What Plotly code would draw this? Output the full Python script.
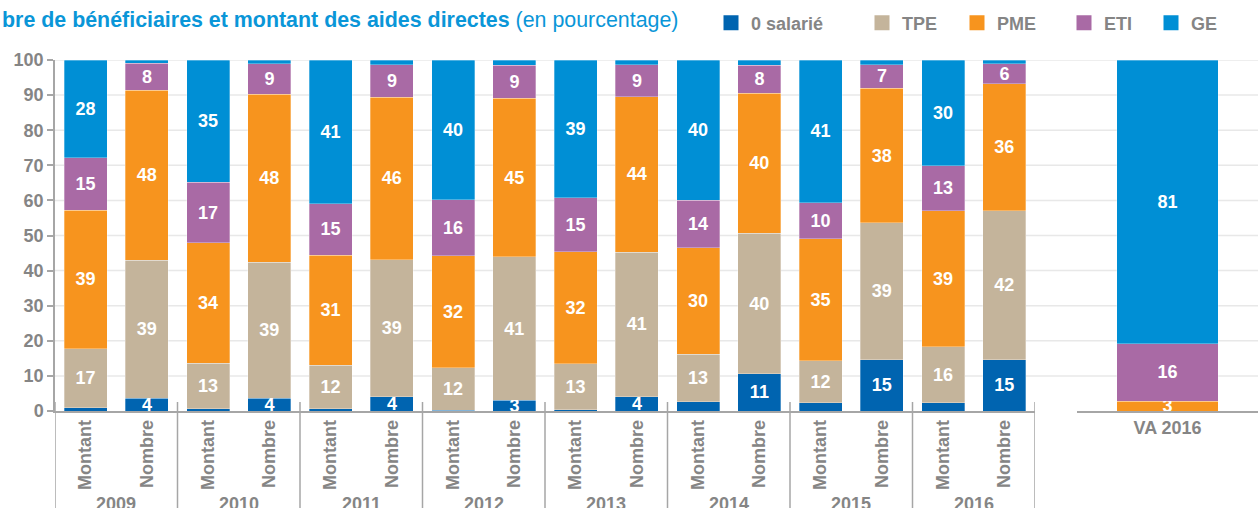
import plotly.graph_objects as go

# ---------------- data ----------------
years = ["2009", "2010", "2011", "2012", "2013", "2014", "2015", "2016"]
kinds = ["Montant", "Nombre"]
series_names = ["0 salarié", "TPE", "PME", "ETI", "GE"]

# order: 2009 Montant, 2009 Nombre, 2010 Montant, 2010 Nombre, ...
zero_salarie = [0.9, 3.6, 0.7, 3.6, 0.7, 4.1, 0.2, 3.0, 0.4, 4.1, 2.7, 10.6, 2.3, 14.6, 2.4, 14.6]
tpe = [16.9, 39.4, 12.9, 38.8, 12.3, 39.0, 12.1, 40.9, 13.0, 41.2, 13.4, 40.0, 12.0, 39.0, 15.9, 42.4]
pme = [39.4, 48.4, 34.3, 47.8, 31.4, 46.3, 32.0, 45.2, 32.0, 44.2, 30.4, 39.9, 34.8, 38.3, 38.8, 36.2]
eti = [15.0, 7.7, 17.3, 8.8, 14.7, 9.3, 15.9, 9.4, 15.4, 9.1, 13.6, 8.0, 10.2, 6.8, 12.8, 5.7]
ge = [27.8, 0.9, 34.8, 1.0, 40.9, 1.3, 39.8, 1.5, 39.2, 1.4, 39.9, 1.5, 40.7, 1.3, 30.1, 1.1]

va_category = ["VA 2016"]
va_pme = [2.8]
va_eti = [16.4]
va_ge = [80.8]

y_ticks = [0, 10, 20, 30, 40, 50, 60, 70, 80, 90, 100]

title_bold = "bre de bénéficiaires et montant des aides directes"
title_light = "(en pourcentage)"

# ---------------- style ----------------
colors = ["#0064B0", "#C4B49B", "#F7941E", "#A96AA5", "#008FD5"]
title_blue = "#0A96D8"
gray_text = "#858585"
axis_gray = "#A6A6A6"
grid_gray = "#E8E8E8"
FONT = "Liberation Sans, Arial, sans-serif"

W, H = 1258, 508
ML, MR, MT, MB = 55, 0, 60, 97
plot_w = W - ML - MR
plot_h = H - MT - MB


def px_x(p):
    return (p - ML) / plot_w


def px_y(p):
    return (H - MB - p) / plot_h


def label(v):
    return str(int(round(v))) if v >= 2.75 else ""


n_k = len(kinds)
x_pos = [i * n_k + j for i in range(len(years)) for j in range(n_k)]
x_text = [k for _ in years for k in kinds]
main_values = [zero_salarie, tpe, pme, eti, ge]
va_values = {"PME": va_pme, "ETI": va_eti, "GE": va_ge}
bar_line = dict(width=0.5, color="rgba(255,255,255,0.6)")
bar_text_font = dict(color="white", size=18, family=FONT, weight="bold")

fig = go.Figure()

for name, vals, col in zip(series_names, main_values, colors):
    fig.add_trace(go.Bar(
        x=x_pos, y=vals, name=name, marker=dict(color=col, line=bar_line),
        text=[label(v) for v in vals], textposition="inside", insidetextanchor="middle",
        textangle=0, textfont=bar_text_font, customdata=x_text,
        width=0.7, showlegend=False, xaxis="x", yaxis="y",
        hovertemplate="%{customdata}: %{y}<extra>" + name + "</extra>",
    ))

for name, col in zip(series_names, colors):
    if name in va_values:
        vals = va_values[name]
        fig.add_trace(go.Bar(
            x=va_category, y=vals, name=name, marker=dict(color=col, line=bar_line),
            text=[label(v) for v in vals], textposition="inside", insidetextanchor="middle",
            textangle=0, textfont=bar_text_font,
            width=0.56, showlegend=False, xaxis="x2", yaxis="y2",
        ))

# legend entries (one legend box per entry, placed like the reference)
legend_left_px = [711, 862, 957, 1064, 1151]
legend_ids = ["legend", "legend2", "legend3", "legend4", "legend5"]
for name, col, lid in zip(series_names, colors, legend_ids):
    fig.add_trace(go.Scatter(
        x=[None], y=[None], mode="markers", name=name, legend=lid,
        marker=dict(symbol="square", size=15, color=col),
        xaxis="x2", yaxis="y2", showlegend=True, hoverinfo="skip",
    ))

legend_common = dict(
    orientation="h", xanchor="left", yanchor="middle", y=px_y(23),
    font=dict(family=FONT, size=18, color=gray_text, weight="bold"),
    bgcolor="rgba(0,0,0,0)", borderwidth=0, itemwidth=30,
)
legend_layout = {}
for lid, lx in zip(legend_ids, legend_left_px):
    legend_layout[lid] = dict(legend_common, x=px_x(lx))

tick_font = dict(family=FONT, size=18, color=gray_text, weight="bold")

shapes = []
for v in y_ticks[1:]:
    shapes.append(dict(type="line", xref="paper", x0=0, x1=1, yref="y", y0=v, y1=v,
                       line=dict(color=grid_gray, width=1.5), layer="below"))
# year dividers: from slightly above the axis down through the labels
for i in range(len(years) + 1):
    xb = n_k * i - 0.5
    shapes.append(dict(type="line", xref="x", x0=xb, x1=xb, yref="paper",
                       y0=px_y(402), y1=px_y(530), line=dict(color=axis_gray, width=1.5),
                       layer="above"))

annotations = [dict(
    xref="paper", yref="paper", x=px_x(0), y=px_y(20), xanchor="left", yanchor="middle",
    showarrow=False,
    text=f"<b>{title_bold}</b> {title_light}",
    font=dict(family=FONT, size=21.4, color=title_blue),
)]
for i, yr in enumerate(years):
    annotations.append(dict(
        xref="x", yref="paper", x=i * n_k + (n_k - 1) / 2, y=px_y(492),
        xanchor="center", yanchor="top", showarrow=False, text=yr,
        font=tick_font,
    ))

fig.update_layout(
    width=W, height=H,
    margin=dict(l=ML, r=MR, t=MT, b=MB, pad=0, autoexpand=False),
    paper_bgcolor="white", plot_bgcolor="rgba(0,0,0,0)",
    font=dict(family=FONT, size=18, color=gray_text),
    barmode="stack",
    hovermode=False,
    uniformtext=dict(minsize=18, mode="show"),
    xaxis=dict(
        domain=[0, px_x(1035)], type="linear", anchor="y",
        range=[-0.5, len(x_pos) - 0.5],
        tickvals=x_pos, ticktext=x_text,
        showline=True, linecolor=axis_gray, linewidth=1.5,
        tickangle=-90, ticks="", tickfont=tick_font, showgrid=False, zeroline=False,
        automargin=False,
    ),
    yaxis=dict(
        domain=[0, 1], range=[0, 100], tickvals=y_ticks, anchor="x",
        ticks="outside", ticklen=6, tickcolor=axis_gray, tickwidth=1.5,
        showline=True, linecolor=axis_gray, linewidth=1.5,
        showgrid=False, zeroline=False, tickfont=tick_font, automargin=False,
    ),
    xaxis2=dict(
        domain=[px_x(1077), 1], type="category", anchor="y2", range=[-0.5, 0.5],
        showline=True, linecolor=axis_gray, linewidth=1.5, ticks="",
        tickfont=tick_font, showgrid=False, zeroline=False, automargin=False,
    ),
    yaxis2=dict(
        domain=[0, 1], range=[0, 100], anchor="x2", visible=False,
        showgrid=False, zeroline=False,
    ),
    shapes=shapes,
    annotations=annotations,
    **legend_layout,
)

fig.write_html(
    "out.html",
    config={"displayModeBar": False},
    post_script="document.body.style.margin='0';document.body.style.overflow='hidden';",
)
